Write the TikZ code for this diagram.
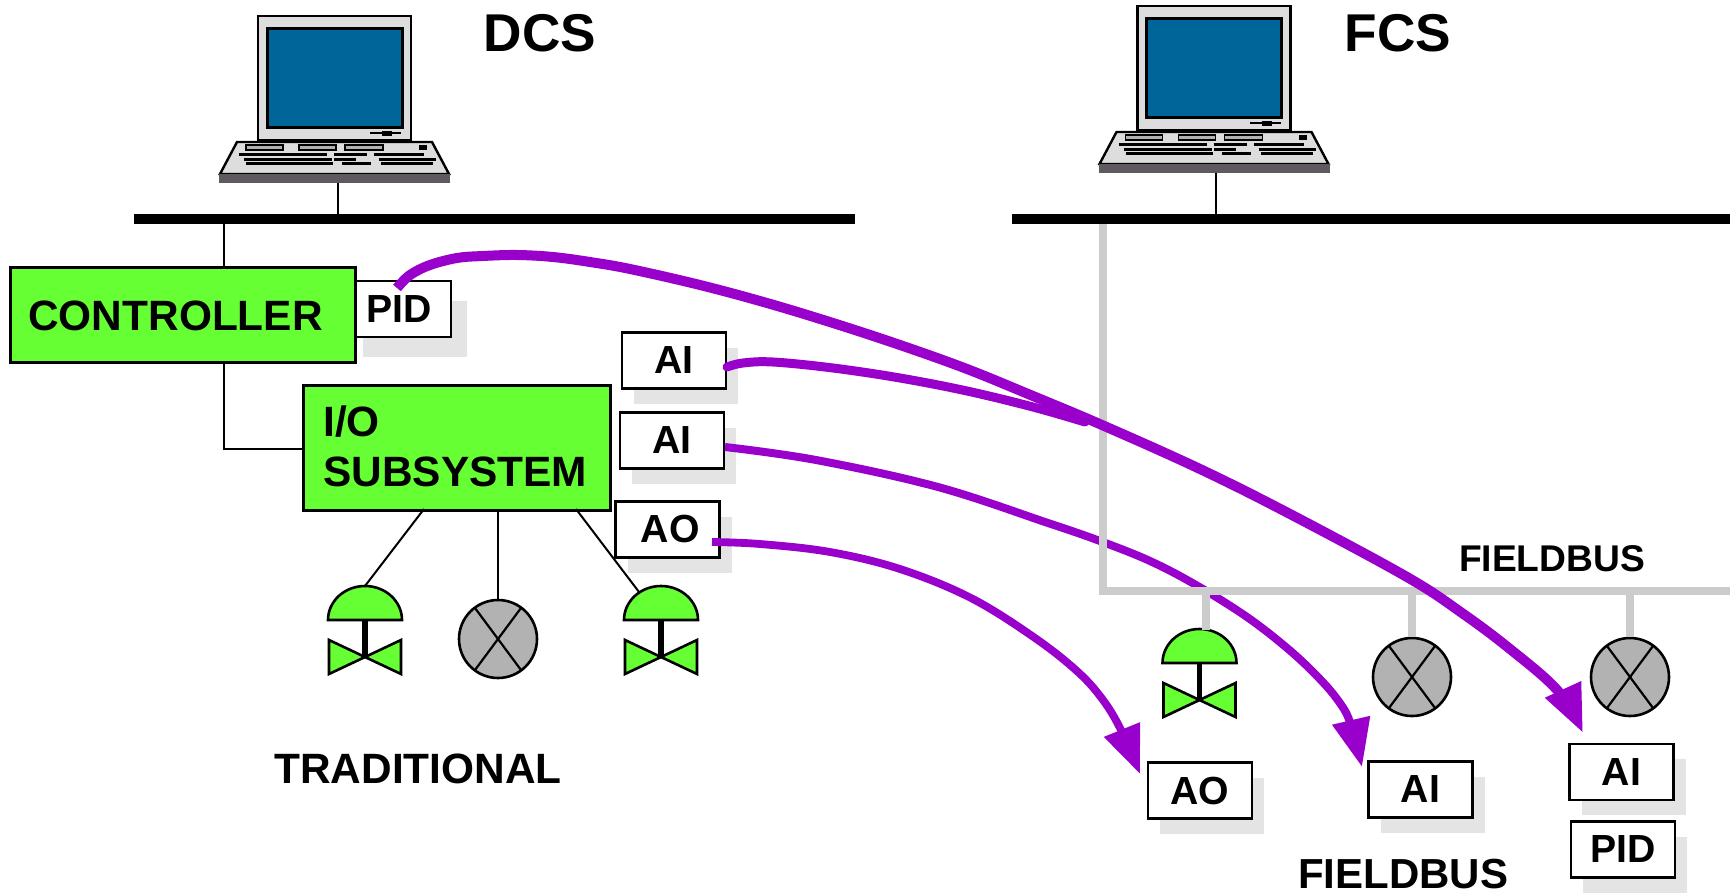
\documentclass[tikz,border=0pt]{standalone}
\usepackage{fontspec}
\setmainfont{Liberation Sans}
\usetikzlibrary{arrows.meta,shadows,calc}
\definecolor{leaf}{HTML}{66FF33}
\definecolor{screenblue}{HTML}{006699}
\definecolor{bodygrey}{HTML}{DDDDDD}
\definecolor{basegrey}{HTML}{5F5A60}
\definecolor{gaugegrey}{HTML}{B2B2B2}
\definecolor{flow}{HTML}{9900CC}
\definecolor{fbgrey}{HTML}{CCCCCC}
\definecolor{shade}{HTML}{E4E4E4}
\tikzset{
  x=0.5pt,y=-0.5pt,
  lbl/.style={font=\bfseries\fontsize{#1}{#1}\selectfont,inner sep=0pt},
  greenbox/.style={draw=black,line width=1.3pt,fill=leaf,inner sep=0pt,anchor=north west},
  blockbox/.style={draw=black,line width=1.2pt,fill=white,inner sep=0pt,minimum width=52pt,minimum height=28pt,
     font=\bfseries\fontsize{19.6}{19.6}\selectfont},
  shad/.style={general shadow={shadow xshift=6pt,shadow yshift=-7.5pt,fill=shade}},
  bus/.style={fill=black,inner sep=0pt,minimum height=5pt},
  wire/.style={draw=black,line width=1pt},
  fieldwire/.style={draw=fbgrey,line width=3.8pt},
  gauge/.style={draw=black,line width=1.3pt,fill=gaugegrey,circle,inner sep=0pt,minimum size=39pt},
  crossx/.style={draw=black,line width=1.1pt},
  flowline/.style={draw=flow,line cap=butt,line join=round},
  flowtip/.style={-{Triangle[length=24pt,width=18.5pt,fill=flow]}},
  laptop/.pic={
    \fill[draw=black,line width=1.2pt,fill=bodygrey] (258,16) rectangle (411,140);
    \fill[draw=black,line width=1.5pt,fill=screenblue] (267,28) rectangle (402,127);
    \draw[line width=1.1pt] (370,133) -- (401,133);
    \fill (382,131) rectangle (392,136);
    \fill[draw=black,line width=1.2pt,fill=bodygrey] (237,142) -- (432,142) -- (449,174) -- (220,174) -- cycle;
    \fill[basegrey] (219,174) rectangle (450,183);
    \foreach \a/\b in {246/283,299/336,345/383}{
      \fill[draw=black,line width=.9pt,fill=gaugegrey] (\a,145) rectangle (\b,150);
    }
    \fill (419,145) rectangle (427,150);
    \foreach \a/\b/\c in {239/327/154.5,334/367/154.5,374/424/154.5,
                          244/332/159.5,334/356/159.5,379/436/159.5,
                          246/333/163.5,342/371/163.5,381/433/163.5}{
      \draw[line width=1.2pt] (\a,\c) -- (\b,\c);
    }
  },
  valve/.pic={
    \fill[draw=black,line width=1.3pt,fill=leaf] (-37,-37) arc[start angle=180,end angle=0,x radius=18.5pt,y radius=17pt] -- cycle;
    \draw[line width=2.8pt] (0,-37) -- (0,0);
    \fill[draw=black,line width=1.3pt,fill=leaf] (0,0) -- (-36,-17) -- (-36,17) -- cycle;
    \fill[draw=black,line width=1.3pt,fill=leaf] (0,0) -- (36,-17) -- (36,17) -- cycle;
    \coordinate (-top) at (0,-71);
  }
}
\newcommand{\gaugex}[1]{%
  \draw[crossx] ($(#1)+(-23,-31)$) -- ($(#1)+(23,31)$);
  \draw[crossx] ($(#1)+(23,-31)$) -- ($(#1)+(-23,31)$);}
\begin{document}
\begin{tikzpicture}
\useasboundingbox (0,0) rectangle (1730,894);
\fill[white] (0,0) rectangle (1730,894);

% laptops
\pic at (0,0) {laptop};
\pic[shift={(879.5,-10)}] at (0,0) {laptop};
\coordinate (dcsfoot) at (338,183);
\coordinate (fcsfoot) at (1216,173);

% buses
\node[bus,minimum width=360.5pt] (dcsbus) at (494.5,219) {};
\node[bus,minimum width=359pt] (fcsbus) at (1371,219) {};
\draw[wire] (dcsfoot) -- (dcsfoot |- dcsbus.north);
\draw[wire] (fcsfoot) -- (fcsfoot |- fcsbus.north);

% titles
\node[lbl=26.6] (dcs) at (540,33) {DCS};
\node[lbl=26.6] (fcs) at (1398,33) {FCS};

% traditional devices
\pic (v1) at (365,657) {valve};
\pic (v3) at (661,657) {valve};
\node[gauge] (g1) at (498,639) {};
\gaugex{g1}

% controller and I/O
\node[blockbox,general shadow={shadow xshift=8.2pt,shadow yshift=-10pt,fill=shade}] (pid) at (399,309) {PID};
\node[greenbox,minimum width=172.5pt,minimum height=47.5pt] (ctrl) at (9,266) {};
\node[lbl=21.2] at (175.5,316) {CONTROLLER};
\node[greenbox,minimum width=153.5pt,minimum height=62.5pt] (io) at (302,384) {};
\node[lbl=21.2,align=left,anchor=north west] at (323,405) {I/O\\[4.2pt]SUBSYSTEM};

\coordinate (ctrlbus) at (224,224);
\draw[wire] (ctrlbus) -- (ctrlbus |- ctrl.north);
\draw[wire] (ctrlbus |- ctrl.south) -- (224,449) -- (io.west |- 224,449);
\coordinate (ioa) at (424,509);
\coordinate (iob) at (576,509);
\coordinate (vthree) at (639,592);
\draw[wire] (ioa) -- (v1-top);
\draw[wire] (io.south -| g1) -- (g1.north);
\draw[wire] (iob) -- (vthree);

\node[blockbox,shad] (ai1) at (674,360.5) {AI};
\node[blockbox,shad] (ai2) at (672,440.5) {AI};
\node[blockbox,shad] (ao1) at (667.5,529.5) {\hspace*{2.8pt}AO};

\node[lbl=21.2] (trad) at (418,769) {TRADITIONAL};

% fieldbus
\coordinate (busdrop) at (1103,224);
\coordinate (buscorner) at (1103,591);
\coordinate (busend) at (1730,591);
\coordinate (v4wire) at (1206,630);
\pic (v4) at (1199.5,700) {valve};
\node[gauge] (g2) at (1412,677) {};
\node[gauge] (g3) at (1630,677) {};
\gaugex{g2}
\gaugex{g3}

% function blocks
\node[blockbox,shad] (ao2) at (1200,790.5) {AO};
\node[blockbox,shad] (ai3) at (1420.5,789.5) {AI};
\node[blockbox,shad] (ai4) at (1621.5,772) {AI};
\node[blockbox,shad] (pid2) at (1623,849.5) {PID};

\node[lbl=18.6] (fb1) at (1552,559) {FIELDBUS};
\node[lbl=21] (fb2) at (1403,874) {FIELDBUS};

% flows
\coordinate (pidout) at (397,288);
\coordinate (ai1out) at (727,367);
\coordinate (ai2out) at (725,447);
\coordinate (ao1out) at (712,542);
\coordinate (aotip) at (1140,774);
\coordinate (aitip) at (1362,767);
\coordinate (ai4tip) at (1583,733);

\draw[flowline,line width=3.9pt,flowtip] plot[smooth,tension=.6] coordinates {(ao1out) (760,544) (830,552) (900,569) (971,598) (1035,638) (1078,672) (1103,700) (1121,730) (aotip)};
\draw[flowline,line width=4pt,flowtip] plot[smooth,tension=.6] coordinates {(ai2out) (816,460) (938,487) (1048,523) (1100,541) (1150,561) (1196,585) (1247,617) (1287,648) (1316,675) (1337,699) (1350,722) (aitip)};

% fieldbus wires: they cross over these two flows, and under the next two
\draw[fieldwire] (busdrop) -- (buscorner) -- (busend);
\draw[fieldwire] (buscorner -| v4wire) -- (v4wire);
\draw[fieldwire] (buscorner -| g2) -- (g2.north);
\draw[fieldwire] (buscorner -| g3) -- (g3.north);

\draw[flowline,line width=4.5pt,line cap=round] plot[smooth,tension=.6] coordinates {(ai1out) (743,363) (773,362) (833,368) (900,378) (967,391) (1033,407) (1085,422)};
\draw[flowline,line width=5pt,flowtip] plot[smooth,tension=.6] coordinates {(pidout) (410,275) (430,265) (457,258) (483,256) (517,255) (553,257) (590,262) (630,269) (700,285) (767,303) (833,323) (900,345) (967,369) (1033,396) (1102,425) (1200,469) (1290,514) (1407,577) (1462,613) (1510,649) (1558,691) (ai4tip)};
\end{tikzpicture}
\end{document}
